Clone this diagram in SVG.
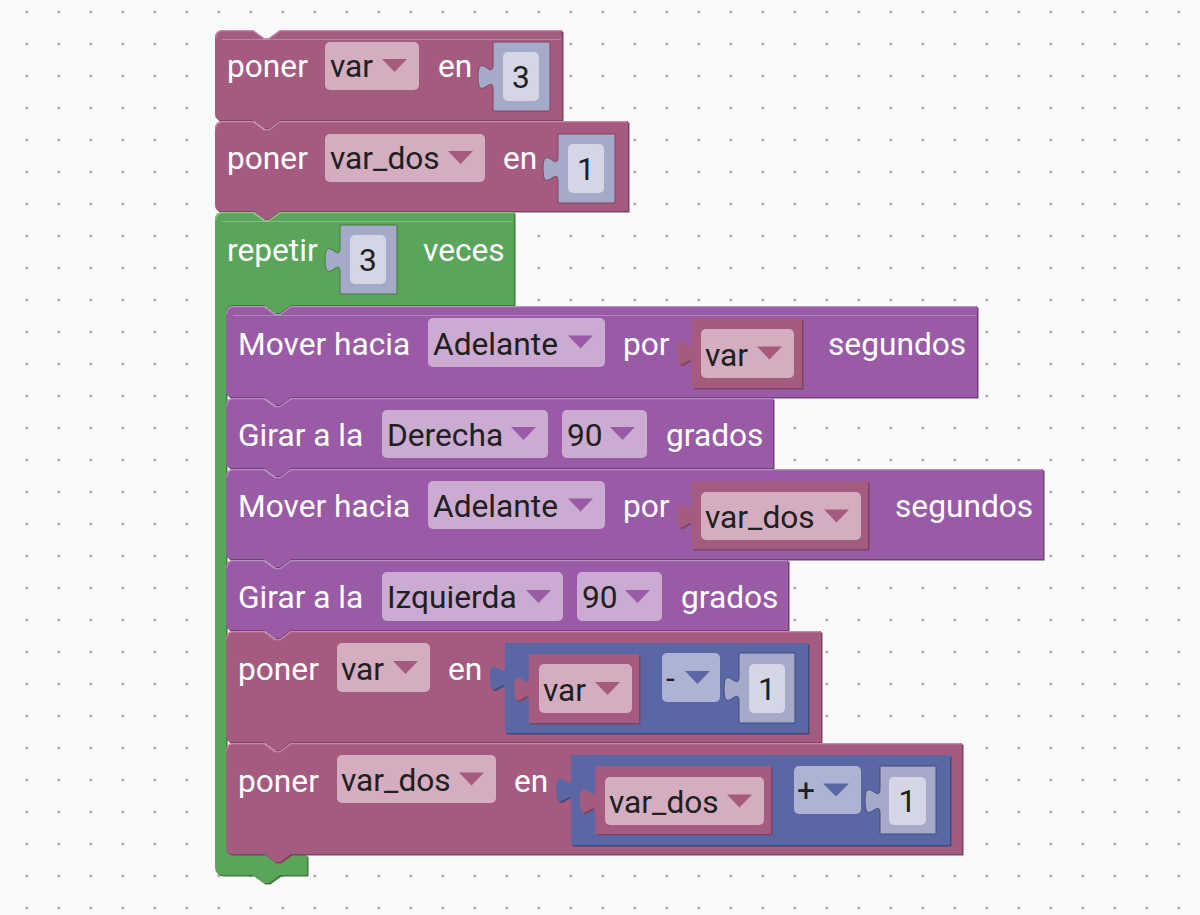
<svg xmlns="http://www.w3.org/2000/svg" width="1200" height="915" viewBox="0 0 1200 915">
  <defs>
    <pattern id="grid" width="32" height="32" patternUnits="userSpaceOnUse" x="10.7" y="-4">
      <circle cx="16" cy="16" r="1.3" fill="#9a9a9a"/>
    </pattern>
    <style>
      text { font-family: Roboto, "Liberation Sans", sans-serif; font-size: 31.7px; }
      .lbl { fill: #ffffff; }
      .fld { fill: #202020; }
      .num { fill: #202020; text-anchor: middle; }
      .pink { fill: #a55b80; }
      .pinkDark { fill: #7d4462; }
      .purple { fill: #995ba5; }
      .purpleDark { fill: #6f4178; }
      .green { fill: #5ba55b; }
      .greenDark { fill: #3f7a3f; }
      .blue { fill: #5b67a5; }
      .blueDark { fill: #404a7e; }
      .ddPink { fill: #d4adc0; }
      .ddPurple { fill: #cbabd2; }
      .ddBlue { fill: #adb3d3; }
      .shadowBlk { fill: #a5aac9; }
      .shadowField { fill: #d4d6e6; }
      .hl { fill: none; stroke-width: 1.2; }
      .topline { fill: none; stroke: #ffffff; stroke-opacity: 0.25; stroke-width: 1; }
    </style>
  </defs>

  <!-- workspace background with dot grid -->
  <rect x="0" y="0" width="1200" height="915" fill="#fafafa"/>
  <rect x="0" y="0" width="1200" height="915" fill="url(#grid)"/>

  <!-- poner var en 3 -->
  <g id="set-var">
    <path class="pinkDark" transform="translate(1.5,1.5)" d="M215,38 Q215,30 223,30 H253 l11,8 l5,0 l11,-8 H562 V120 H280 l-11,8 l-5,0 l-11,-8 H221 Q215,120 215,114 Z"/>
    <path class="pink" d="M215,38 Q215,30 223,30 H253 l11,8 l5,0 l11,-8 H562 V120 H280 l-11,8 l-5,0 l-11,-8 H221 Q215,120 215,114 Z"/>
    <path class="hl" stroke="#c98aa9" d="M215.7,38 Q215.7,30.7 223,30.7 H253 l11,8 l5,0 l11,-8 H561"/>
    <line class="topline" x1="222" y1="39.5" x2="561" y2="39.5"/>
    <text class="lbl" x="227" y="77">poner</text>
    <rect class="ddPink" x="325" y="42" width="94" height="48" rx="5"/>
    <text class="fld" x="330" y="77">var</text>
    <path class="pink" d="M382,59 H407 L394.5,72 Z"/>
    <text class="lbl" x="438" y="77">en</text>
    <path class="shadowBlk" stroke="#7d4462" stroke-width="1" d="M493,42 H550 V111 H493 V89.5 c0,-16.7 -15,14.2 -15,-12.5 s15,4.2 15,-12.5 Z"/>
    <rect class="shadowField" x="503" y="52" width="36" height="49" rx="5"/>
    <text class="num" x="521" y="88">3</text>
  </g>

  <!-- poner var_dos en 1 -->
  <g id="set-var-dos">
    <path class="pinkDark" transform="translate(1.5,1.5)" d="M215,129 Q215,121 223,121 H253 l11,8 l5,0 l11,-8 H628 V211 H280 l-11,8 l-5,0 l-11,-8 H221 Q215,211 215,205 Z"/>
    <path class="pink" d="M215,129 Q215,121 223,121 H253 l11,8 l5,0 l11,-8 H628 V211 H280 l-11,8 l-5,0 l-11,-8 H221 Q215,211 215,205 Z"/>
    <path class="hl" stroke="#c98aa9" d="M215.7,129 Q215.7,121.7 223,121.7 H253 l11,8 l5,0 l11,-8 H627"/>
    <text class="lbl" x="227" y="169">poner</text>
    <rect class="ddPink" x="325" y="134" width="160" height="48" rx="5"/>
    <text class="fld" x="330" y="169">var_dos</text>
    <path class="pink" d="M448,151 H473 L460.5,164 Z"/>
    <text class="lbl" x="503" y="169">en</text>
    <path class="shadowBlk" stroke="#7d4462" stroke-width="1" d="M558,134 H615 V203 H558 V181.5 c0,-16.7 -15,14.2 -15,-12.5 s15,4.2 15,-12.5 Z"/>
    <rect class="shadowField" x="568" y="144" width="36" height="49" rx="5"/>
    <text class="num" x="586" y="180">1</text>
  </g>

  <!-- repetir 3 veces (C-shaped loop) -->
  <g id="repeat-loop">
    <path class="greenDark" transform="translate(1.5,1.5)" d="M215,220 Q215,212 223,212 H253 l11,8 l5,0 l11,-8 H514 V305 H291 l-11,8 l-5,0 l-11,-8 H234 Q226,305 226,313 V847 Q226,855 234,855 H307 V875 H280 l-11,8 l-5,0 l-11,-8 H223 Q215,875 215,867 Z"/>
    <path class="green" d="M215,220 Q215,212 223,212 H253 l11,8 l5,0 l11,-8 H514 V305 H291 l-11,8 l-5,0 l-11,-8 H234 Q226,305 226,313 V847 Q226,855 234,855 H307 V875 H280 l-11,8 l-5,0 l-11,-8 H223 Q215,875 215,867 Z"/>
    <path class="hl" stroke="#8cc58c" d="M215.7,220 Q215.7,212.7 223,212.7 H253 l11,8 l5,0 l11,-8 H513"/>
    <line class="topline" x1="222" y1="221.5" x2="513" y2="221.5"/>
    <text class="lbl" x="227" y="261">repetir</text>
    <path class="shadowBlk" stroke="#3f7a3f" stroke-width="1" d="M340,225 H397 V294 H340 V272.5 c0,-16.7 -15,14.2 -15,-12.5 s15,4.2 15,-12.5 Z"/>
    <rect class="shadowField" x="350" y="235" width="36" height="49" rx="5"/>
    <text class="num" x="368" y="271">3</text>
    <text class="lbl" x="423" y="261">veces</text>
  </g>

  <!-- Mover hacia Adelante por var segundos -->
  <g id="move-var">
    <path class="purpleDark" transform="translate(1.5,1.5)" d="M226,314 Q226,306 234,306 H264 l11,8 l5,0 l11,-8 H977 V397 H291 l-11,8 l-5,0 l-11,-8 H232 Q226,397 226,391 Z"/>
    <path class="purple" d="M226,314 Q226,306 234,306 H264 l11,8 l5,0 l11,-8 H977 V397 H291 l-11,8 l-5,0 l-11,-8 H232 Q226,397 226,391 Z"/>
    <path class="hl" stroke="#bb8cc4" d="M226.7,314 Q226.7,306.7 234,306.7 H264 l11,8 l5,0 l11,-8 H976"/>
    <line class="topline" x1="233" y1="315.5" x2="976" y2="315.5"/>
    <text class="lbl" x="238" y="355">Mover hacia</text>
    <rect class="ddPurple" x="428" y="318" width="177" height="49" rx="5"/>
    <text class="fld" x="433" y="355">Adelante</text>
    <path class="purple" d="M568,335.5 H593 L580.5,348.5 Z"/>
    <text class="lbl" x="623" y="355">por</text>
    <path class="pinkDark" transform="translate(1.5,1.5)" d="M692,318 H802 V388 H692 V365.5 c0,-16.7 -15,14.2 -15,-12.5 s15,4.2 15,-12.5 Z"/>
    <path class="pink" d="M692,318 H802 V388 H692 V365.5 c0,-16.7 -15,14.2 -15,-12.5 s15,4.2 15,-12.5 Z"/>
    <rect class="ddPink" x="701" y="329" width="93" height="49" rx="5"/>
    <text class="fld" x="705" y="366">var</text>
    <path class="pink" d="M757,346.5 H782 L769.5,359.5 Z"/>
    <text class="lbl" x="828" y="355">segundos</text>
  </g>

  <!-- Girar a la Derecha 90 grados -->
  <g id="turn-right">
    <path class="purpleDark" transform="translate(1.5,1.5)" d="M226,406 Q226,398 234,398 H264 l11,8 l5,0 l11,-8 H773 V468 H291 l-11,8 l-5,0 l-11,-8 H232 Q226,468 226,462 Z"/>
    <path class="purple" d="M226,406 Q226,398 234,398 H264 l11,8 l5,0 l11,-8 H773 V468 H291 l-11,8 l-5,0 l-11,-8 H232 Q226,468 226,462 Z"/>
    <path class="hl" stroke="#bb8cc4" d="M226.7,406 Q226.7,398.7 234,398.7 H264 l11,8 l5,0 l11,-8 H772"/>
    <text class="lbl" x="238" y="446">Girar a la</text>
    <rect class="ddPurple" x="382" y="410" width="166" height="48" rx="5"/>
    <text class="fld" x="387" y="446">Derecha</text>
    <path class="purple" d="M511,427 H536 L523.5,440 Z"/>
    <rect class="ddPurple" x="562" y="410" width="85" height="48" rx="5"/>
    <text class="fld" x="567" y="446">90</text>
    <path class="purple" d="M610,427 H635 L622.5,440 Z"/>
    <text class="lbl" x="666" y="446">grados</text>
  </g>

  <!-- Mover hacia Adelante por var_dos segundos -->
  <g id="move-var-dos">
    <path class="purpleDark" transform="translate(1.5,1.5)" d="M226,477 Q226,469 234,469 H264 l11,8 l5,0 l11,-8 H1043 V559 H291 l-11,8 l-5,0 l-11,-8 H232 Q226,559 226,553 Z"/>
    <path class="purple" d="M226,477 Q226,469 234,469 H264 l11,8 l5,0 l11,-8 H1043 V559 H291 l-11,8 l-5,0 l-11,-8 H232 Q226,559 226,553 Z"/>
    <path class="hl" stroke="#bb8cc4" d="M226.7,477 Q226.7,469.7 234,469.7 H264 l11,8 l5,0 l11,-8 H1042"/>
    <text class="lbl" x="238" y="517">Mover hacia</text>
    <rect class="ddPurple" x="428" y="481" width="177" height="48" rx="5"/>
    <text class="fld" x="433" y="517">Adelante</text>
    <path class="purple" d="M568,498.5 H593 L580.5,511.5 Z"/>
    <text class="lbl" x="623" y="517">por</text>
    <path class="pinkDark" transform="translate(1.5,1.5)" d="M692,481 H868 V549 H692 V528.5 c0,-16.7 -15,14.2 -15,-12.5 s15,4.2 15,-12.5 Z"/>
    <path class="pink" d="M692,481 H868 V549 H692 V528.5 c0,-16.7 -15,14.2 -15,-12.5 s15,4.2 15,-12.5 Z"/>
    <rect class="ddPink" x="701" y="492" width="160" height="48" rx="5"/>
    <text class="fld" x="705" y="528">var_dos</text>
    <path class="pink" d="M824,509.5 H849 L836.5,522.5 Z"/>
    <text class="lbl" x="895" y="517">segundos</text>
  </g>

  <!-- Girar a la Izquierda 90 grados -->
  <g id="turn-left">
    <path class="purpleDark" transform="translate(1.5,1.5)" d="M226,568 Q226,560 234,560 H264 l11,8 l5,0 l11,-8 H788 V630 H291 l-11,8 l-5,0 l-11,-8 H232 Q226,630 226,624 Z"/>
    <path class="purple" d="M226,568 Q226,560 234,560 H264 l11,8 l5,0 l11,-8 H788 V630 H291 l-11,8 l-5,0 l-11,-8 H232 Q226,630 226,624 Z"/>
    <path class="hl" stroke="#bb8cc4" d="M226.7,568 Q226.7,560.7 234,560.7 H264 l11,8 l5,0 l11,-8 H787"/>
    <text class="lbl" x="238" y="608">Girar a la</text>
    <rect class="ddPurple" x="382" y="572" width="181" height="49" rx="5"/>
    <text class="fld" x="387" y="608">Izquierda</text>
    <path class="purple" d="M526,590 H551 L538.5,603 Z"/>
    <rect class="ddPurple" x="577" y="572" width="85" height="49" rx="5"/>
    <text class="fld" x="582" y="608">90</text>
    <path class="purple" d="M625,590 H650 L637.5,603 Z"/>
    <text class="lbl" x="681" y="608">grados</text>
  </g>

  <!-- poner var en (var - 1) -->
  <g id="set-var-minus">
    <path class="pinkDark" transform="translate(1.5,1.5)" d="M226,639 Q226,631 234,631 H264 l11,8 l5,0 l11,-8 H821 V742 H291 l-11,8 l-5,0 l-11,-8 H232 Q226,742 226,736 Z"/>
    <path class="pink" d="M226,639 Q226,631 234,631 H264 l11,8 l5,0 l11,-8 H821 V742 H291 l-11,8 l-5,0 l-11,-8 H232 Q226,742 226,736 Z"/>
    <path class="hl" stroke="#c98aa9" d="M226.7,639 Q226.7,631.7 234,631.7 H264 l11,8 l5,0 l11,-8 H820"/>
    <text class="lbl" x="238" y="680">poner</text>
    <rect class="ddPink" x="337" y="643" width="93" height="49" rx="5"/>
    <text class="fld" x="341" y="680">var</text>
    <path class="pink" d="M393,661 H418 L405.5,674 Z"/>
    <text class="lbl" x="448" y="680">en</text>
    <!-- arithmetic block -->
    <path class="blueDark" transform="translate(1.5,1.5)" d="M505,643 H808 V733 H505 V690.5 c0,-16.7 -15,14.2 -15,-12.5 s15,4.2 15,-12.5 Z"/>
    <path class="blue" d="M505,643 H808 V733 H505 V690.5 c0,-16.7 -15,14.2 -15,-12.5 s15,4.2 15,-12.5 Z"/>
    <path class="pinkDark" transform="translate(1.5,1.5)" d="M529,654 H639 V723 H529 V701.5 c0,-16.7 -15,14.2 -15,-12.5 s15,4.2 15,-12.5 Z"/>
    <path class="pink" d="M529,654 H639 V723 H529 V701.5 c0,-16.7 -15,14.2 -15,-12.5 s15,4.2 15,-12.5 Z"/>
    <rect class="ddPink" x="539" y="664" width="93" height="49" rx="5"/>
    <text class="fld" x="543" y="701">var</text>
    <path class="pink" d="M595,682 H620 L607.5,695 Z"/>
    <rect class="ddBlue" x="662" y="653" width="58" height="49" rx="5"/>
    <text class="fld" x="666" y="689">-</text>
    <path class="blue" d="M685,671 H710 L697.5,684 Z"/>
    <path class="shadowBlk" stroke="#404a7e" stroke-width="1" d="M739,653 H795 V723 H739 V701.5 c0,-16.7 -15,14.2 -15,-12.5 s15,4.2 15,-12.5 Z"/>
    <rect class="shadowField" x="749" y="664" width="36" height="49" rx="5"/>
    <text class="num" x="767" y="700">1</text>
  </g>

  <!-- poner var_dos en (var_dos + 1) -->
  <g id="set-var-dos-plus">
    <path class="pinkDark" transform="translate(1.5,1.5)" d="M226,751 Q226,743 234,743 H264 l11,8 l5,0 l11,-8 H962 V854 H291 l-11,8 l-5,0 l-11,-8 H232 Q226,854 226,848 Z"/>
    <path class="pink" d="M226,751 Q226,743 234,743 H264 l11,8 l5,0 l11,-8 H962 V854 H291 l-11,8 l-5,0 l-11,-8 H232 Q226,854 226,848 Z"/>
    <path class="hl" stroke="#c98aa9" d="M226.7,751 Q226.7,743.7 234,743.7 H264 l11,8 l5,0 l11,-8 H961"/>
    <text class="lbl" x="238" y="792">poner</text>
    <rect class="ddPink" x="337" y="755" width="159" height="48" rx="5"/>
    <text class="fld" x="341" y="791">var_dos</text>
    <path class="pink" d="M459,772.5 H484 L471.5,785.5 Z"/>
    <text class="lbl" x="514" y="792">en</text>
    <!-- arithmetic block -->
    <path class="blueDark" transform="translate(1.5,1.5)" d="M571,755 H950 V845 H571 V802.5 c0,-16.7 -15,14.2 -15,-12.5 s15,4.2 15,-12.5 Z"/>
    <path class="blue" d="M571,755 H950 V845 H571 V802.5 c0,-16.7 -15,14.2 -15,-12.5 s15,4.2 15,-12.5 Z"/>
    <path class="pinkDark" transform="translate(1.5,1.5)" d="M595,766 H771 V834 H595 V813.5 c0,-16.7 -15,14.2 -15,-12.5 s15,4.2 15,-12.5 Z"/>
    <path class="pink" d="M595,766 H771 V834 H595 V813.5 c0,-16.7 -15,14.2 -15,-12.5 s15,4.2 15,-12.5 Z"/>
    <rect class="ddPink" x="605" y="777" width="159" height="48" rx="5"/>
    <text class="fld" x="609" y="813">var_dos</text>
    <path class="pink" d="M727,794.5 H752 L739.5,807.5 Z"/>
    <rect class="ddBlue" x="794" y="766" width="67" height="48" rx="5"/>
    <text class="fld" x="797" y="801">+</text>
    <path class="blue" d="M823,783.5 H849 L836,796.5 Z"/>
    <path class="shadowBlk" stroke="#404a7e" stroke-width="1" d="M880,766 H936 V834 H880 V813.5 c0,-16.7 -15,14.2 -15,-12.5 s15,4.2 15,-12.5 Z"/>
    <rect class="shadowField" x="889" y="777" width="37" height="48" rx="5"/>
    <text class="num" x="907.5" y="812">1</text>
  </g>

  <g id="connectors"></g>
</svg>
